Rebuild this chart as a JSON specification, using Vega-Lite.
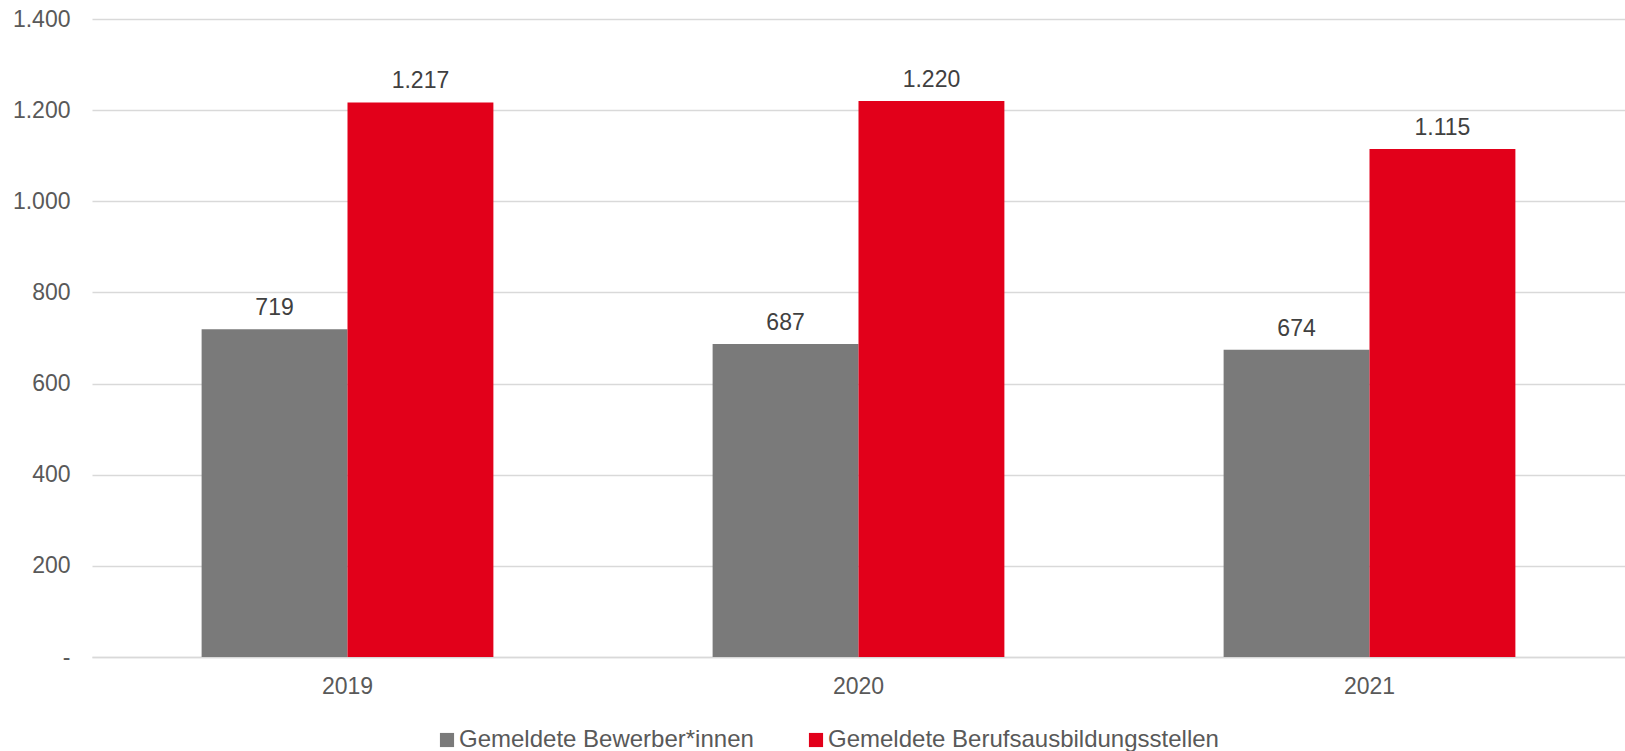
{
  "$schema": "https://vega.github.io/schema/vega-lite/v6.json",
  "width": 1533,
  "height": 638,
  "autosize": {"type": "none"},
  "padding": {"left": 92, "top": 19, "right": 0, "bottom": 94},
  "background": "white",
  "config": {
    "locale": {
      "number": {"decimal": ",", "thousands": ".", "grouping": [3], "currency": ["", " €"]}
    },
    "view": {"stroke": null},
    "font": "Liberation Sans"
  },
  "data": {
    "values": [
      {"jahr": "2019", "reihe": "Gemeldete Bewerber*innen", "wert": 719},
      {"jahr": "2019", "reihe": "Gemeldete Berufsausbildungsstellen", "wert": 1217},
      {"jahr": "2020", "reihe": "Gemeldete Bewerber*innen", "wert": 687},
      {"jahr": "2020", "reihe": "Gemeldete Berufsausbildungsstellen", "wert": 1220},
      {"jahr": "2021", "reihe": "Gemeldete Bewerber*innen", "wert": 674},
      {"jahr": "2021", "reihe": "Gemeldete Berufsausbildungsstellen", "wert": 1115}
    ]
  },
  "encoding": {
    "x": {
      "field": "jahr",
      "type": "nominal",
      "scale": {"paddingInner": 0.429, "paddingOuter": 0.2145},
      "axis": {
        "title": null,
        "labelAngle": 0,
        "labelFontSize": 23,
        "labelColor": "#595959",
        "labelPadding": 18,
        "ticks": false,
        "domainColor": "#d9d9d9",
        "domainWidth": 1.5
      }
    },
    "xOffset": {
      "field": "reihe",
      "type": "nominal",
      "sort": ["Gemeldete Bewerber*innen", "Gemeldete Berufsausbildungsstellen"]
    },
    "y": {
      "field": "wert",
      "type": "quantitative",
      "scale": {"domain": [0, 1400]},
      "axis": {
        "title": null,
        "values": [0, 200, 400, 600, 800, 1000, 1200, 1400],
        "labelExpr": "datum.value == 0 ? '-' : format(datum.value, ',d')",
        "labelFontSize": 23,
        "labelColor": "#595959",
        "labelPadding": 22,
        "ticks": false,
        "domain": false,
        "gridColor": "#d9d9d9",
        "gridWidth": 1.5
      }
    }
  },
  "layer": [
    {
      "mark": {"type": "bar"},
      "encoding": {
        "color": {
          "field": "reihe",
          "type": "nominal",
          "sort": ["Gemeldete Bewerber*innen", "Gemeldete Berufsausbildungsstellen"],
          "scale": {
            "domain": ["Gemeldete Bewerber*innen", "Gemeldete Berufsausbildungsstellen"],
            "range": ["#7a7a7a", "#e2001a"]
          },
          "legend": {
            "title": null,
            "orient": "none",
            "direction": "horizontal",
            "legendX": 343,
            "legendY": 709,
            "symbolType": "square",
            "symbolSize": 200,
            "symbolStrokeWidth": 0,
            "labelFontSize": 24,
            "labelColor": "#595959",
            "labelOffset": 0,
            "columnPadding": 50,
            "labelLimit": 600
          }
        }
      }
    },
    {
      "mark": {"type": "text", "baseline": "alphabetic", "dy": -14, "fontSize": 23, "color": "#404040"},
      "encoding": {
        "text": {"field": "wert", "type": "quantitative", "format": ",d"}
      }
    }
  ]
}
